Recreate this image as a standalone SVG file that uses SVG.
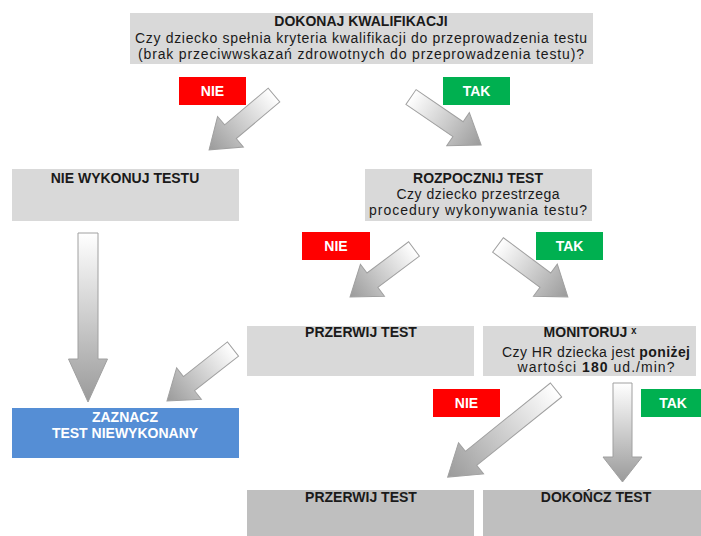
<svg xmlns="http://www.w3.org/2000/svg" width="701" height="536" viewBox="0 0 701 536">
<defs>
<linearGradient id="ag" x1="0" y1="0" x2="1" y2="0">
<stop offset="0" stop-color="#FFFFFF"/>
<stop offset="0.55" stop-color="#C8C8C8"/>
<stop offset="1" stop-color="#9A9A9A"/>
</linearGradient>
</defs>
<style>
.box{fill:#D9D9D9}
.box2{fill:#BFBFBF}
.blue{fill:#558ED5}
.red{fill:#FF0000}
.green{fill:#00B050}
text{font-family:"Liberation Sans",Arial,sans-serif;font-size:14px;fill:#1A1A1A;text-anchor:middle}
.b{font-weight:bold}
.w{fill:#FFFFFF;font-weight:bold}
.arr{fill:url(#ag);stroke:#A0A0A0;stroke-width:1}
</style>
<rect width="701" height="536" fill="#FFFFFF"/>

<g id="n-kwalifikacja">
<rect class="box" x="130" y="13" width="463" height="51"/>
<text class="b" x="361" y="26">DOKONAJ KWALIFIKACJI</text>
<text x="361" y="43" textLength="452" lengthAdjust="spacing">Czy dziecko spełnia kryteria kwalifikacji do przeprowadzenia testu</text>
<text x="361" y="59" textLength="446" lengthAdjust="spacing">(brak przeciwwskazań zdrowotnych do przeprowadzenia testu)?</text>
</g>

<g id="n-nie-wykonuj">
<rect class="box" x="12" y="169" width="227" height="52"/>
<text class="b" x="125" y="183">NIE WYKONUJ TESTU</text>
</g>

<g id="n-rozpocznij">
<rect class="box" x="365" y="169" width="227" height="52"/>
<text class="b" x="478" y="183">ROZPOCZNIJ TEST</text>
<text x="478" y="199" textLength="163" lengthAdjust="spacing">Czy dziecko przestrzega</text>
<text x="478" y="215" textLength="218" lengthAdjust="spacing">procedury wykonywania testu?</text>
</g>

<g id="n-zaznacz">
<rect class="blue" x="12" y="408" width="227" height="50"/>
<text class="w" x="125" y="422">ZAZNACZ</text>
<text class="w" x="125" y="438">TEST NIEWYKONANY</text>
</g>

<g id="n-przerwij1">
<rect class="box" x="247" y="326" width="227" height="50"/>
<text class="b" x="361" y="337">PRZERWIJ TEST</text>
</g>

<g id="n-monitoruj">
<rect class="box" x="483" y="326" width="213" height="50"/>
<text class="b" x="590" y="337">MONITORUJ ˣ</text>
<text x="596" y="357" textLength="188" lengthAdjust="spacing">Czy HR dziecka jest <tspan class="b">poniżej</tspan></text>
<text x="596" y="372" textLength="157" lengthAdjust="spacing">wartości <tspan class="b">180</tspan> ud./min?</text>
</g>

<g id="n-przerwij2">
<rect class="box2" x="247" y="490" width="227" height="46"/>
<text class="b" x="361" y="502">PRZERWIJ TEST</text>
</g>

<g id="n-dokoncz">
<rect class="box2" x="483" y="490" width="218" height="46"/>
<text class="b" x="596" y="502">DOKOŃCZ TEST</text>
</g>

<g id="connectors">
<polygon class="arr" transform="translate(274,95) rotate(139.8)" points="0,-9 57,-9 57,-20 85,0 57,20 57,9 0,9"/>
<polygon class="arr" transform="translate(411,97) rotate(34.4)" points="0,-9 57,-9 57,-20 85,0 57,20 57,9 0,9"/>
<polygon class="arr" transform="translate(414,249) rotate(143.1)" points="0,-9 52,-9 52,-20 80,0 52,20 52,9 0,9"/>
<polygon class="arr" transform="translate(498,245) rotate(36.6)" points="0,-9 59,-9 59,-20 87,0 59,20 59,9 0,9"/>
<polygon class="arr" transform="translate(233,349) rotate(141.8)" points="0,-9 56,-9 56,-20 84,0 56,20 56,9 0,9"/>
<polygon class="arr" transform="translate(556,390) rotate(141.2)" points="0,-9 109,-9 109,-20 139,0 109,20 109,9 0,9"/>
<polygon class="arr" transform="translate(88,233) rotate(90)" points="0,-10 126,-10 126,-19.5 169,0 126,19.5 126,10 0,10"/>
<polygon class="arr" transform="translate(622.5,383) rotate(90)" points="0,-9.5 74,-9.5 74,-19.5 99,0 74,19.5 74,9.5 0,9.5"/>
</g>

<g id="label-nie-1">
<rect class="red" x="179" y="77" width="67" height="28"/>
<text class="w" x="212.5" y="96">NIE</text>
</g>
<g id="label-tak-1">
<rect class="green" x="443" y="77" width="67" height="28"/>
<text class="w" x="476.5" y="96">TAK</text>
</g>
<g id="label-nie-2">
<rect class="red" x="302" y="232" width="68" height="28"/>
<text class="w" x="336" y="251">NIE</text>
</g>
<g id="label-tak-2">
<rect class="green" x="536" y="232" width="67" height="28"/>
<text class="w" x="569.5" y="251">TAK</text>
</g>
<g id="label-nie-3">
<rect class="red" x="433" y="389" width="67" height="28"/>
<text class="w" x="466.5" y="408">NIE</text>
</g>
<g id="label-tak-3">
<rect class="green" x="641" y="389" width="60" height="28"/>
<text class="w" x="673" y="408">TAK</text>
</g>
</svg>
